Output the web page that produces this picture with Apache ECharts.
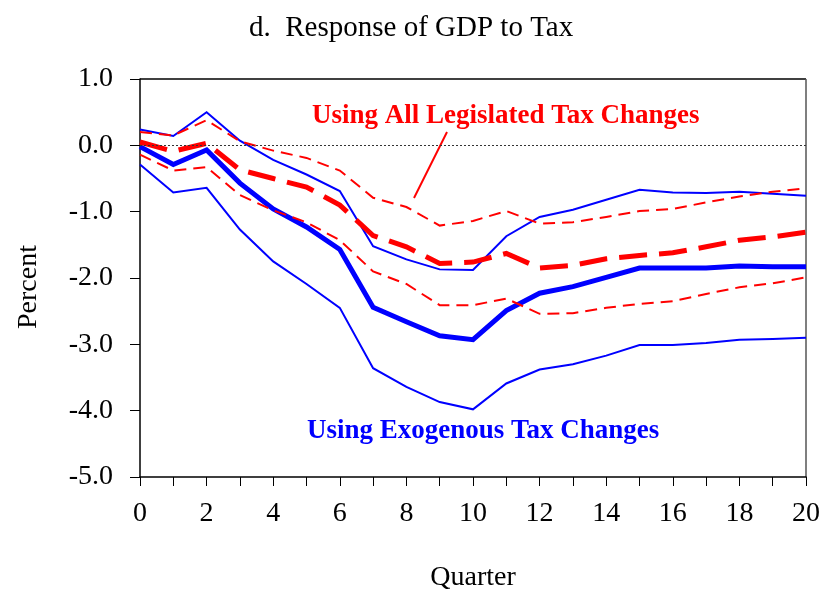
<!DOCTYPE html>
<html>
<head>
<meta charset="utf-8">
<script src="https://cdn.jsdelivr.net/npm/echarts@6/dist/echarts.min.js"></script>
<style>
  html, body { margin: 0; padding: 0; background: #fff; }
  #chart { width: 835px; height: 597px; }
</style>
</head>
<body>
<div id="chart"></div>
<script>
// quarters 0..20
const quarters = [0,1,2,3,4,5,6,7,8,9,10,11,12,13,14,15,16,17,18,19,20];

// Exogenous tax changes (blue): point estimate and bands
const exoMid   = [-0.02,-0.29,-0.07,-0.57,-0.96,-1.23,-1.57,-2.44,-2.66,-2.87,-2.93,-2.49,-2.23,-2.13,-1.99,-1.85,-1.85,-1.85,-1.82,-1.83,-1.83];
const exoUpper = [0.24,0.14,0.50,0.07,-0.22,-0.44,-0.69,-1.52,-1.72,-1.87,-1.88,-1.37,-1.08,-0.97,-0.82,-0.67,-0.71,-0.72,-0.70,-0.73,-0.76];
const exoLower = [-0.29,-0.71,-0.64,-1.27,-1.75,-2.09,-2.45,-3.36,-3.64,-3.87,-3.98,-3.59,-3.38,-3.30,-3.17,-3.01,-3.01,-2.98,-2.93,-2.92,-2.90];

// All legislated tax changes (red): point estimate and bands
const allMid   = [0.05,-0.09,0.03,-0.37,-0.50,-0.63,-0.90,-1.36,-1.53,-1.78,-1.76,-1.63,-1.85,-1.81,-1.71,-1.66,-1.62,-1.53,-1.43,-1.38,-1.31];
const allUpper = [0.20,0.15,0.38,0.06,-0.08,-0.19,-0.38,-0.79,-0.93,-1.21,-1.14,-0.99,-1.18,-1.16,-1.08,-0.99,-0.96,-0.86,-0.77,-0.70,-0.65];
const allLower = [-0.14,-0.38,-0.33,-0.75,-0.98,-1.16,-1.43,-1.90,-2.09,-2.41,-2.41,-2.31,-2.54,-2.53,-2.45,-2.39,-2.35,-2.24,-2.14,-2.08,-1.99];

const yTicks = [-5, -4, -3, -2, -1, 0, 1];

const pairs = vals => quarters.map((q, i) => [q, vals[i]]);
const SERIF = 'Liberation Serif';

function line(name, vals, color, width, dash) {
  return {
    name, type: 'line', data: pairs(vals), symbol: 'none', silent: true,
    lineStyle: { color, width, type: dash || 'solid', cap: 'butt', join: 'miter' }
  };
}

const chart = echarts.init(document.getElementById('chart'));
chart.setOption({
  animation: false,
  backgroundColor: '#fff',
  title: {
    text: 'd.  Response of GDP to Tax',
    left: 244, top: 9,
    textStyle: { fontFamily: SERIF, fontSize: 29, fontWeight: 'normal', color: '#000' }
  },
  grid: { left: 140, right: 29, top: 79, bottom: 120 },
  xAxis: {
    type: 'value', min: 0, max: 20, interval: 1,
    name: 'Quarter', nameLocation: 'middle', nameGap: 87,
    nameTextStyle: { fontFamily: SERIF, fontSize: 28, color: '#000' },
    axisLine: { onZero: false, lineStyle: { color: '#000', width: 1.5 } },
    axisTick: { inside: false, length: 9, lineStyle: { color: '#000' } },
    axisLabel: {
      fontFamily: SERIF, fontSize: 28, color: '#000', margin: 23,
      formatter: v => (v % 2 === 0 ? String(v) : '')
    },
    splitLine: { show: false }
  },
  yAxis: {
    type: 'value', min: -5, max: 1, interval: 1,
    axisLine: { lineStyle: { color: '#000', width: 1.5 } },
    axisTick: { length: 10, lineStyle: { color: '#000' } },
    axisLabel: {
      fontFamily: SERIF, fontSize: 28, color: '#000', margin: 27,
      formatter: v => (yTicks.includes(v) ? v.toFixed(1) : '')
    },
    splitLine: { show: false }
  },
  series: [
    line('exoUpper', exoUpper, '#0000ff', 2),
    line('exoLower', exoLower, '#0000ff', 2),
    Object.assign(line('exoMid', exoMid, '#0000ff', 5), {
      markLine: {
        silent: true, symbol: 'none', label: { show: false },
        lineStyle: { color: '#333', width: 1.2, type: [2, 2] },
        data: [{ yAxis: 0 }]
      }
    }),
    line('allUpper', allUpper, '#ff0000', 2, [12, 7]),
    line('allLower', allLower, '#ff0000', 2, [12, 7]),
    line('allMid', allMid, '#ff0000', 5, [28, 12])
  ],
  graphic: [
    // frame top / right
    { type: 'line', shape: { x1: 140, y1: 79, x2: 806, y2: 79 }, style: { stroke: '#000', lineWidth: 1.5 } },
    { type: 'line', shape: { x1: 806, y1: 79, x2: 806, y2: 477 }, style: { stroke: '#555', lineWidth: 1.5 } },
    {
      type: 'text', x: 29, y: 287, rotation: Math.PI / 2,
      style: { text: 'Percent', fill: '#000', font: '28px "Liberation Serif"', align: 'center', verticalAlign: 'middle' }
    },
    {
      type: 'text', left: 312, top: 103,
      style: { text: 'Using All Legislated Tax Changes', fill: '#ff0000', font: 'bold 27px "Liberation Serif"' }
    },
    { type: 'line', shape: { x1: 447, y1: 132, x2: 414, y2: 198 }, style: { stroke: '#ff0000', lineWidth: 2 } },
    {
      type: 'text', left: 307, top: 418,
      style: { text: 'Using Exogenous Tax Changes', fill: '#0000ff', font: 'bold 27px "Liberation Serif"' }
    }
  ]
});
</script>
</body>
</html>
